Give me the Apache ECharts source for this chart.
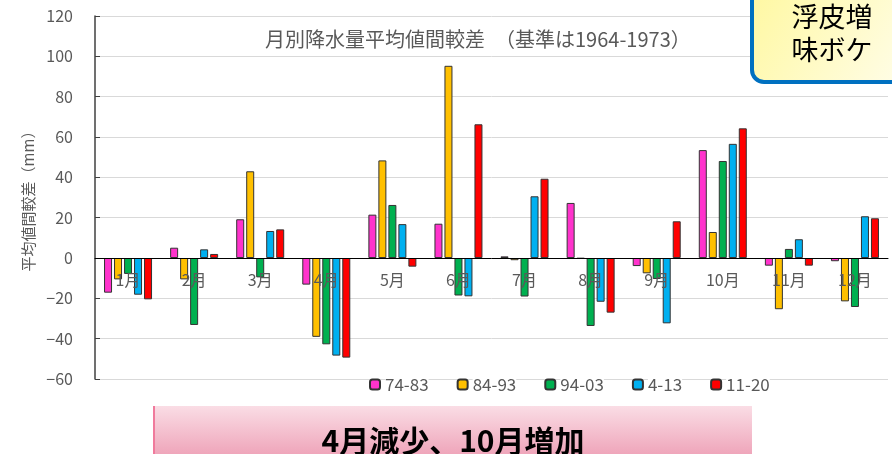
<!DOCTYPE html>
<html><head><meta charset="utf-8">
<script src="https://cdn.jsdelivr.net/npm/echarts@6/dist/echarts.min.js"></script>
<style>html,body{margin:0;padding:0;background:#fff}#c{width:892px;height:454px}</style>
</head><body><div id="c"></div>
<script>
const categories = ['1月','2月','3月','4月','5月','6月','7月','8月','9月','10月','11月','12月'];
const seriesNames = ['74-83','84-93','94-03','4-13','11-20'];
const s7483 = [-17.2, 5.1, 19.2, -13.2, 21.5, 17.0, 0.8, 27.3, -4.0, 53.5, -3.8, -1.6];
const s8493 = [-10.6, -10.6, 43.0, -39.1, 48.4, 95.3, -1.1, -0.3, -7.6, 12.9, -25.4, -21.5];
const s9403 = [-7.9, -33.2, -9.6, -42.8, 26.3, -18.6, -19.1, -33.7, -10.4, 48.1, 4.5, -24.3];
const s0413 = [-18.2, 4.3, 13.4, -48.4, 16.8, -19.0, 30.6, -21.7, -32.4, 56.6, 9.3, 20.7];
const s1120 = [-20.5, 2.0, 14.2, -49.4, -4.3, 66.3, 39.3, -27.1, 18.2, 64.3, -3.8, 19.7];
const colors = ['#FF33CC','#FFC000','#00B050','#00B0F0','#FF0000'];
const yMin = -60, yMax = 120, yStep = 20;
const titleText = '月別降水量平均値間較差　（基準は1964-1973）';
const yName = '平均値間較差（mm）';
const noteText = '浮皮増\n味ボケ';
const bottomText = '4月減少、10月増加';

const font = '"Noto Sans CJK JP", "Noto Sans", sans-serif';
const allData = [s7483, s8493, s9403, s0413, s1120];
const chart = echarts.init(document.getElementById('c'));
chart.setOption({
  animation: false,
  textStyle: { fontFamily: font },
  grid: { left: 95, right: 4, top: 16, bottom: 75 },
  legend: {
    top: 371, left: 364, itemWidth: 10, itemHeight: 10, itemGap: 28,
    textStyle: { fontSize: 17, color: '#595959', backgroundColor: '#fff' },
    data: seriesNames
  },
  xAxis: {
    type: 'category', data: categories, z: 5,
    axisLine: { onZero: true, lineStyle: { color: '#000', width: 1 } },
    axisTick: { show: false },
    axisLabel: { color: '#595959', fontSize: 16, margin: -107 }
  },
  yAxis: {
    type: 'value', min: yMin, max: yMax, interval: yStep,
    name: yName, nameLocation: 'middle', nameGap: 58,
    nameTextStyle: { color: '#595959', fontSize: 15 },
    axisLine: { show: true, lineStyle: { color: '#404040', width: 1.5 } },
    axisTick: { show: true, inside: true, length: 5, lineStyle: { color: '#404040' } },
    axisLabel: { color: '#595959', fontSize: 16, margin: 22,
      formatter: v => v < 0 ? '\u2212' + Math.abs(v) : String(v) },
    splitLine: { lineStyle: { color: '#D9D9D9', width: 1 } }
  },
  series: seriesNames.map((n, i) => ({
    name: n, type: 'bar', data: allData[i], barWidth: 8, barGap: '25%',
    itemStyle: { color: colors[i], borderColor: '#333', borderWidth: 1 }
  })),
  graphic: [
    { type: 'text', left: 265, top: 29, z: 10,
      style: { text: titleText, font: '20px ' + font, fill: '#595959', backgroundColor: '#fff' } },
    { type: 'rect', z: 20, shape: { x: 752, y: -10, width: 150, height: 92, r: [0, 0, 0, 12] },
      style: { fill: new echarts.graphic.LinearGradient(0, 0, 1, 1, [
        { offset: 0, color: '#FFF8A0' }, { offset: 1, color: '#FFFDE8' }]),
        stroke: '#0070C0', lineWidth: 4 } },
    { type: 'text', z: 21, x: 832, y: 33,
      style: { text: noteText, font: '27px ' + font, fill: '#000', align: 'center', verticalAlign: 'middle', lineHeight: 33 } },
    { type: 'rect', z: 20, shape: { x: 153, y: 406, width: 599, height: 60 },
      style: { fill: new echarts.graphic.LinearGradient(0, 0, 0, 1, [
        { offset: 0, color: '#FADDE5' }, { offset: 1, color: '#EC98B0' }]) } },
    { type: 'rect', z: 21, shape: { x: 153, y: 406, width: 2, height: 60 },
      style: { fill: '#F07A9C' } },
    { type: 'text', z: 22, x: 453, y: 441,
      style: { text: bottomText, font: 'bold 30px ' + font, fill: '#000', align: 'center', verticalAlign: 'middle' } }
  ]
});
</script></body></html>
